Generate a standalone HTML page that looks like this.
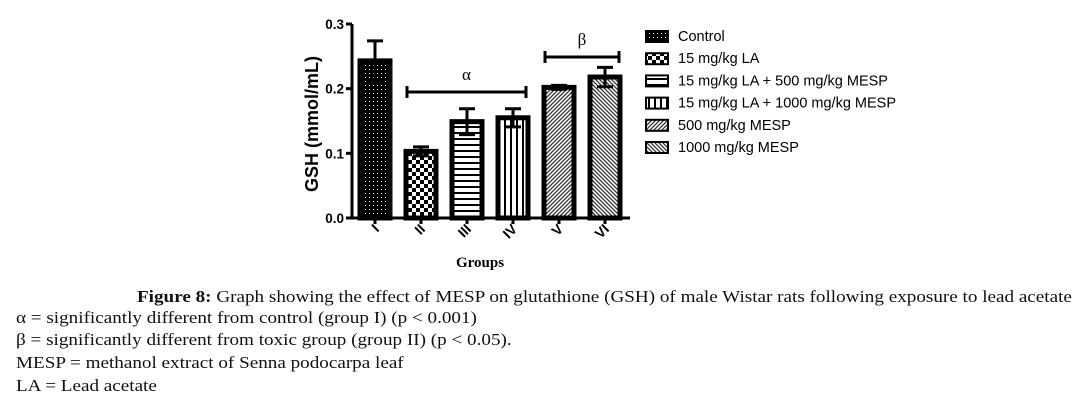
<!DOCTYPE html>
<html><head><meta charset="utf-8"><style>
body{margin:0;background:#fff;width:1078px;height:405px;overflow:hidden;position:relative}
.cap{position:absolute;font-family:"Liberation Serif",serif;font-size:17px;color:#111;white-space:nowrap;line-height:20px;transform:scaleX(1.125);transform-origin:0 0}
</style></head><body>
<svg width="1078" height="285" style="position:absolute;left:0;top:0" font-family="Liberation Sans, sans-serif">
<defs>
<pattern id="p0" width="4" height="4" patternUnits="userSpaceOnUse"><rect width="4" height="4" fill="#000"/><rect x="1" y="1" width="1" height="1" fill="#fff"/></pattern>
<pattern id="p1" width="8" height="8" patternUnits="userSpaceOnUse"><rect width="8" height="8" fill="#fff"/><rect width="4" height="4" fill="#000"/><rect x="4" y="4" width="4" height="4" fill="#000"/></pattern>
<pattern id="p2" width="6" height="6" patternUnits="userSpaceOnUse"><rect width="6" height="6" fill="#fff"/><rect width="6" height="2" fill="#000"/></pattern>
<pattern id="p3" width="6" height="6" patternUnits="userSpaceOnUse"><rect width="6" height="6" fill="#fff"/><rect width="2" height="6" fill="#000"/></pattern>
<pattern id="p4" width="4" height="4" patternUnits="userSpaceOnUse"><rect width="4" height="4" fill="#fff"/><path d="M-1,5 L5,-1 M-1,1 L1,-1 M3,5 L5,3" stroke="#333" stroke-width="1.3"/></pattern>
<pattern id="p5" width="4" height="4" patternUnits="userSpaceOnUse"><rect width="4" height="4" fill="#fff"/><path d="M-1,-1 L5,5 M3,-1 L5,1 M-1,3 L1,5" stroke="#333" stroke-width="1.3"/></pattern>
</defs>
<g id="plot"></g>
</svg>
<div class="cap" style="left:137px;top:287px"><b>Figure 8:</b> Graph showing the effect of MESP on glutathione (GSH) of male Wistar rats following exposure to lead acetate</div>
<div class="cap" style="left:16px;top:308px">α = significantly different from control (group I) (p &lt; 0.001)</div>
<div class="cap" style="left:16px;top:330px">β = significantly different from toxic group (group II) (p &lt; 0.05).</div>
<div class="cap" style="left:16px;top:353px">MESP = methanol extract of Senna podocarpa leaf</div>
<div class="cap" style="left:16px;top:376px">LA = Lead acetate</div>
<script>
const categories=["I","II","III","IV","V","VI"];
const means=[0.243,0.103,0.149,0.155,0.202,0.218];
const errs=[0.031,0.007,0.020,0.014,0.003,0.015];
const yTicks=[0.0,0.1,0.2,0.3];
const yTickLabels=["0.0","0.1","0.2","0.3"];
const legendLabels=["Control","15 mg/kg LA","15 mg/kg LA + 500 mg/kg MESP","15 mg/kg LA + 1000 mg/kg MESP","500 mg/kg MESP","1000 mg/kg MESP"];
const NS="http://www.w3.org/2000/svg";
const g=document.getElementById('plot');
const x0=352,x1=630,y0=218,yTop=24,ymax=0.3;
function ys(v){return y0-(v/ymax)*(y0-yTop);}
function xc(i){return 375+i*46;}
function mk(t,a,p){const e=document.createElementNS(NS,t);for(const k in a)e.setAttribute(k,a[k]);(p||g).appendChild(e);return e;}
categories.forEach((c,i)=>{
 const cx=xc(i),top=ys(means[i]);
 const r=mk('rect',{x:cx-15,y:top,width:30,height:y0-top,fill:'url(#p'+i+')',stroke:'#000','stroke-width':5});
 
 
 const e=mk('path',{d:`M${cx},${ys(means[i]+errs[i])}V${ys(means[i]-errs[i])}M${cx-8},${ys(means[i]+errs[i])}H${cx+8}M${cx-8},${ys(means[i]-errs[i])}H${cx+8}`,stroke:'#000','stroke-width':3,fill:'none'});
 
 
 const t=mk('text',{x:0,y:0,'font-size':14,'font-weight':'bold','text-anchor':'end',transform:`translate(${cx+5},${230}) rotate(-45)`});
 t.textContent=c;
 
 
 mk('line',{x1:cx,x2:cx,y1:y0,y2:y0+6,stroke:'#000','stroke-width':3});
});
const ax=mk('path',{d:`M${x0},${yTop}V${y0}H${x1}`,stroke:'#000','stroke-width':3,fill:'none'});


yTicks.forEach((v,i)=>{
 mk('line',{x1:x0-6,x2:x0,y1:ys(v),y2:ys(v),stroke:'#000','stroke-width':3});
 const t=mk('text',{x:x0-8,y:ys(v)+5,'font-size':13.5,'font-weight':'bold','text-anchor':'end'});
 t.textContent=yTickLabels[i];
 
 
});
const yt=mk('text',{x:0,y:0,'font-size':18,'font-weight':'bold','text-anchor':'middle',transform:'translate(318,124) rotate(-90)'});
yt.textContent='GSH (mmol/mL)';


const xt=mk('text',{x:480,y:267,'font-size':15,'font-weight':'bold','text-anchor':'middle','font-family':'Liberation Serif, serif'});
xt.textContent='Groups';


function br(xa,xb,y,sym,name){
 const p=mk('path',{d:`M${xa},${y-6}V${y+6}M${xa},${y}H${xb}M${xb},${y-6}V${y+6}`,stroke:'#000','stroke-width':3,fill:'none'});
 
 
 const t=mk('text',{x:(xa+xb)/2,y:y-12,'font-size':17,'text-anchor':'middle','font-family':'Liberation Serif, serif'});
 t.textContent=sym;
 
 
}
br(407,526,92,'α','alpha');
br(545,619,57,'β','beta');
legendLabels.forEach((l,i)=>{
 const y=36+i*22.2;
 const r=mk('rect',{x:646,y:y-5,width:22,height:11,fill:'url(#p'+i+')',stroke:'#000','stroke-width':2});
 
 
 const t=mk('text',{x:678,y:y+5,'font-size':14.5});
 t.textContent=l;
 
 
});
</script>
</body></html>
